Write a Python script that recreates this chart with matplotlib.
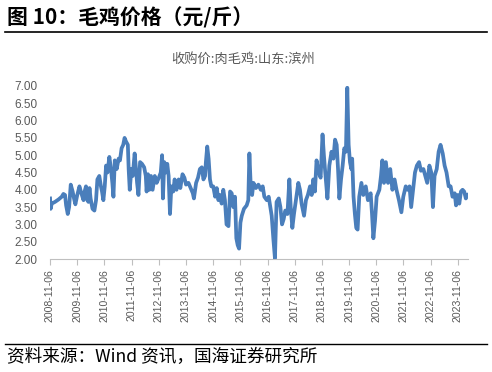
import matplotlib
matplotlib.use("Agg")
import matplotlib.pyplot as plt
import pandas as pd

plt.rcParams['font.family'] = ['Noto Sans CJK SC', 'DejaVu Sans']

# price series (time as decimal year, price in 元/斤)
years = [
    2008.85, 2008.87, 2008.91, 2009.03, 2009.16, 2009.28, 2009.34, 2009.40, 2009.44, 2009.50,
    2009.55, 2009.61, 2009.68, 2009.73, 2009.78, 2009.85, 2009.93, 2010.00, 2010.08, 2010.12,
    2010.17, 2010.22, 2010.26, 2010.30, 2010.34, 2010.41, 2010.48, 2010.54, 2010.59, 2010.66,
    2010.72, 2010.76, 2010.81, 2010.86, 2010.91, 2010.96, 2011.03, 2011.09, 2011.14, 2011.18,
    2011.23, 2011.30, 2011.37, 2011.42, 2011.48, 2011.54, 2011.59, 2011.64, 2011.71, 2011.74,
    2011.78, 2011.84, 2011.89, 2011.96, 2012.01, 2012.05, 2012.10, 2012.16, 2012.23, 2012.31,
    2012.37, 2012.40, 2012.45, 2012.50, 2012.56, 2012.62, 2012.70, 2012.77, 2012.85, 2012.92,
    2012.97, 2013.00, 2013.05, 2013.11, 2013.16, 2013.21, 2013.26, 2013.31, 2013.38, 2013.43,
    2013.50, 2013.58, 2013.64, 2013.72, 2013.79, 2013.85, 2013.94, 2014.02, 2014.10, 2014.14,
    2014.22, 2014.29, 2014.36, 2014.43, 2014.49, 2014.55, 2014.58, 2014.63, 2014.68, 2014.73,
    2014.78, 2014.85, 2014.92, 2014.98, 2015.04, 2015.10, 2015.16, 2015.22, 2015.28, 2015.34,
    2015.41, 2015.47, 2015.53, 2015.59, 2015.65, 2015.70, 2015.75, 2015.80, 2015.85, 2015.90,
    2015.98, 2016.08, 2016.14, 2016.18, 2016.23, 2016.28, 2016.33, 2016.42, 2016.51, 2016.60,
    2016.67, 2016.73, 2016.82, 2016.89, 2016.94, 2017.00, 2017.06, 2017.12, 2017.18, 2017.26,
    2017.32, 2017.38, 2017.44, 2017.50, 2017.58, 2017.65, 2017.70, 2017.76, 2017.82, 2017.89,
    2017.98, 2018.04, 2018.10, 2018.19, 2018.26, 2018.33, 2018.41, 2018.47, 2018.53, 2018.59,
    2018.65, 2018.73, 2018.80, 2018.87, 2018.92, 2018.97, 2019.05, 2019.12, 2019.20, 2019.27,
    2019.33, 2019.39, 2019.44, 2019.49, 2019.55, 2019.61, 2019.67, 2019.73, 2019.78, 2019.83,
    2019.88, 2019.93, 2019.96, 2020.01, 2020.06, 2020.11, 2020.16, 2020.22, 2020.30, 2020.37,
    2020.46, 2020.54, 2020.64, 2020.69, 2020.74, 2020.80, 2020.86, 2020.96, 2021.02, 2021.07,
    2021.13, 2021.20, 2021.28, 2021.36, 2021.44, 2021.52, 2021.59, 2021.68, 2021.77, 2021.84,
    2021.93, 2022.00, 2022.07, 2022.13, 2022.20, 2022.27, 2022.34, 2022.42, 2022.49, 2022.58,
    2022.65, 2022.72, 2022.80, 2022.87, 2022.93, 2022.99, 2023.07, 2023.14, 2023.21, 2023.29,
    2023.36, 2023.43, 2023.51, 2023.58, 2023.65, 2023.73, 2023.78, 2023.84, 2023.90, 2023.96,
    2024.02, 2024.08, 2024.14, 2024.21,
]
prices = [
    3.75, 3.45, 3.60, 3.65, 3.72, 3.80, 3.88, 3.85, 3.55, 3.30,
    3.50, 4.15, 3.95, 3.75, 3.58, 3.85, 4.10, 3.90, 3.70, 3.95,
    4.10, 3.70, 3.65, 4.05, 3.75, 3.45, 3.40, 3.70, 4.30, 4.40,
    4.10, 3.95, 3.70, 4.10, 4.70, 4.50, 4.95, 4.60, 4.20, 3.80,
    4.85, 4.60, 4.90, 4.85, 5.20, 5.30, 5.50, 5.40, 5.30, 4.60,
    4.00, 4.60, 4.40, 5.05, 4.60, 4.20, 3.85, 4.80, 4.75, 4.65,
    4.40, 3.95, 4.45, 4.00, 4.40, 4.00, 4.40, 4.20, 4.35, 4.50,
    5.00, 3.75, 4.80, 4.50, 4.75, 4.40, 3.30, 4.10, 3.95, 4.30,
    4.00, 4.30, 4.05, 4.45, 4.35, 4.15, 4.20, 4.05, 3.90, 3.75,
    4.20, 4.35, 4.60, 4.65, 4.30, 4.40, 4.80, 5.25, 4.90, 4.30,
    4.10, 4.10, 3.80, 4.05, 3.70, 3.85, 3.60, 4.00, 3.70, 3.00,
    2.95, 3.95, 3.90, 3.50, 3.80, 2.60, 2.40, 2.30, 3.05, 3.25,
    3.45, 3.55, 3.70, 5.05, 4.10, 3.85, 4.20, 4.05, 4.15, 4.00,
    4.10, 3.80, 3.70, 3.80, 3.55, 3.25, 2.60, 2.02, 3.65, 3.75,
    3.50, 3.00, 3.15, 3.40, 3.30, 4.30, 3.50, 2.90, 3.30, 3.70,
    4.20, 4.00, 3.60, 3.25, 3.70, 3.85, 4.10, 3.85, 4.30, 3.95,
    4.85, 4.50, 4.35, 5.60, 5.00, 4.50, 3.75, 4.70, 5.10, 4.90,
    5.45, 5.30, 4.60, 3.75, 4.30, 4.70, 5.20, 5.10, 6.95, 5.30,
    4.80, 4.60, 4.90, 3.80, 3.30, 2.90, 2.85, 3.80, 4.20, 3.85,
    4.10, 3.70, 3.90, 3.30, 2.60, 3.10, 3.80, 4.00, 4.40, 4.85,
    4.20, 4.80, 4.20, 4.60, 4.00, 4.30, 4.00, 3.70, 3.35, 3.80,
    4.10, 4.00, 4.10, 3.50, 4.00, 4.50, 4.70, 4.80, 4.55, 4.60,
    4.40, 4.20, 4.70, 4.50, 3.50, 4.40, 4.60, 5.10, 5.30, 5.05,
    4.70, 4.50, 4.10, 4.10, 3.80, 3.90, 3.55, 3.85, 3.60, 3.95,
    4.00, 3.95, 3.75, 3.85,
]

tick_dates = [f"{y}-11-06" for y in range(2008, 2024)]
y_ticks = [2.0, 2.5, 3.0, 3.5, 4.0, 4.5, 5.0, 5.5, 6.0, 6.5, 7.0]

title = "图 10：毛鸡价格（元/斤）"
chart_title = "收购价:肉毛鸡:山东:滨州"
source = "资料来源：Wind 资讯，国海证券研究所"


def to_year(s):
    d = pd.Timestamp(s)
    days = 366 if d.is_leap_year else 365
    return d.year + (d.dayofyear - 1) / days


fig = plt.figure(figsize=(4.92, 3.72), dpi=100)
ax = fig.add_axes([50 / 492, 1 - 259 / 372, 418 / 492, 173 / 372])

ax.plot(years, prices, color='#4A7EBB', linewidth=2.7, solid_joinstyle='round')

ax.set_ylim(2.0, 7.0)
ax.set_xlim(to_year(tick_dates[0]), 2024.22)
ax.set_yticks(y_ticks)
ax.set_yticklabels([f"{v:.2f}" for v in y_ticks], fontsize=8.5, color='#595959',
                   family=['Liberation Sans', 'DejaVu Sans'])
ax.set_xticks([to_year(d) for d in tick_dates])
ax.set_xticklabels(tick_dates, rotation=90, fontsize=7.6, color='#595959',
                   family=['Liberation Sans', 'DejaVu Sans'])
ax.tick_params(axis='y', length=0, pad=9)
ax.tick_params(axis='x', length=4, color='#BFBFBF', width=0.8, pad=3)

for side in ['left', 'right', 'top']:
    ax.spines[side].set_visible(False)
ax.spines['bottom'].set_color('#BFBFBF')
ax.spines['bottom'].set_linewidth(0.8)

fig.text(7 / 492, 1 - 18 / 372, title, fontsize=15, fontweight='bold',
         va='center', ha='left', color='black')
fig.add_artist(plt.Line2D([5 / 492, 487 / 492], [1 - 32 / 372, 1 - 32 / 372],
                          color='black', linewidth=1.2))
fig.text(243 / 492, 1 - 59 / 372, chart_title, fontsize=9.5, color='#595959',
         ha='center', va='center')
fig.add_artist(plt.Line2D([5 / 492, 487 / 492], [1 - 344 / 372, 1 - 344 / 372],
                          color='black', linewidth=1.0))
fig.text(7 / 492, 1 - 357 / 372, source, fontsize=12.7, color='black',
         ha='left', va='center')

fig.savefig("out.png", dpi=100)
